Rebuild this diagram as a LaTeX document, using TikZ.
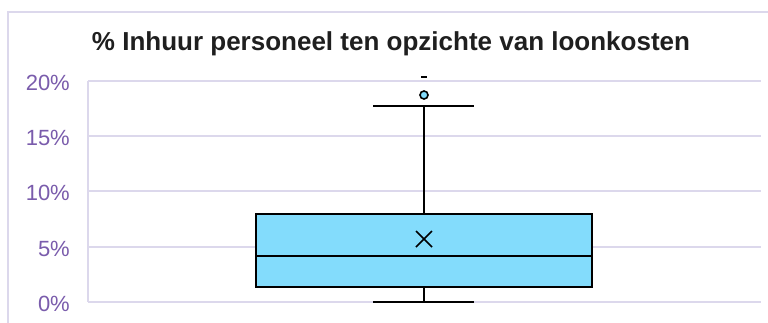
\documentclass[tikz,border=0pt]{standalone}
\usepackage{fontspec}
\setmainfont{Liberation Sans}
\definecolor{gridc}{RGB}{220,216,236}
\definecolor{labc}{RGB}{122,92,172}
\definecolor{boxc}{RGB}{131,220,252}
\begin{document}
\begin{tikzpicture}[x=1pt,y=-1pt,
  grid/.style={draw=gridc,line width=1.5pt},
  ylab/.style={anchor=east,text=labc,font=\fontsize{22}{22}\selectfont,inner sep=0pt},
  blk/.style={draw=black,line width=1.6pt}]
\useasboundingbox (0,0) rectangle (768,322);
\fill[white] (0,0) rectangle (768,322);
% chart border
\draw[grid] (8,330) -- (8,12) -- (770,12);
% title
\node[font=\fontsize{26}{28}\bfseries\selectfont,text=black!88] (title) at (391,44) {\% Inhuur personeel ten opzichte van loonkosten};
% grid lines
\foreach \y/\t in {81/20,136/15,191/10,247/5,302/0}{
  \draw[grid] (88,\y) -- (761,\y);
  \node[ylab] (l\t) at (70,\y+1.5) {\t\%};
}
\draw[grid] (88,81) -- (88,302);
% whiskers
\coordinate (wtop) at (424,106);
\coordinate (wbot) at (424,302);
\draw[blk] (wtop) -- (424,214);
\draw[blk] (424,287) -- (wbot);
\draw[blk] (373,106) -- (474,106);
\draw[blk] (373,302) -- (474,302);
% box
\node[blk,fill=boxc,minimum width=336pt,minimum height=73pt,inner sep=0pt] (box) at (424,250.5) {};
\draw[blk] (256,256) -- (592,256);
% mean
\draw[line width=1.5pt] (416,231) -- (432,247) (416,247) -- (432,231);
% outliers
\node[circle,draw=black,fill=boxc,line width=1.6pt,minimum size=8pt,inner sep=0pt] (out1) at (424,95) {};
\draw[line width=1.4pt] (421,77) -- (427,77);
\end{tikzpicture}
\end{document}
